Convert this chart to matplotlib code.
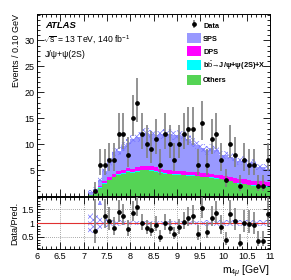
import numpy as np
import matplotlib
matplotlib.use("Agg")
import matplotlib.pyplot as plt
from matplotlib.ticker import MultipleLocator, FixedLocator
from matplotlib.patches import Patch

plt.rcParams['font.family'] = ['Liberation Sans', 'DejaVu Sans']
plt.rcParams['mathtext.fontset'] = 'custom'
plt.rcParams['mathtext.rm'] = 'Liberation Sans'
plt.rcParams['mathtext.it'] = 'Liberation Sans:italic'
plt.rcParams['mathtext.bf'] = 'Liberation Sans:bold'
plt.rcParams['hatch.linewidth'] = 0.5

# ---------------- data (bins of 0.1 GeV, 7.1 - 11.0 GeV) ----------------
bin_edges = [round(7.1 + 0.1 * i, 2) for i in range(40)]
data = [0, 1, 6, 6, 7, 7, 12, 12, 8, 15, 18, 12, 10, 9, 11, 6, 12, 10, 7, 10,
        12, 13, 13, 6, 14, 6, 11, 12, 7, 3, 10, 8, 2, 7, 6, 6, 2, 2, 7]
others = [0.2, 0.6, 1.6, 2.4, 3.0, 3.6, 4.1, 4.3, 4.7, 4.5, 4.7, 5.0, 5.0, 4.9,
          4.7, 4.5, 4.3, 4.2, 4.1, 4.1, 4.0, 3.9, 3.9, 3.8, 3.6, 3.6, 3.5, 3.3,
          3.2, 3.0, 2.8, 2.5, 2.4, 2.3, 2.1, 2.0, 1.9, 1.9, 1.8]
bb = [0.0, 0.0, 0.05, 0.05, 0.1, 0.1, 0.1, 0.1, 0.1, 0.1, 0.1, 0.1, 0.1, 0.1,
      0.1, 0.1, 0.1, 0.1, 0.1, 0.1, 0.1, 0.1, 0.1, 0.1, 0.1, 0.1, 0.1, 0.1,
      0.1, 0.1, 0.1, 0.1, 0.1, 0.1, 0.1, 0.1, 0.1, 0.1, 0.1]
dps = [0.05, 0.15, 0.3, 0.4, 0.5, 0.55, 0.6, 0.6, 0.65, 0.65, 0.7, 0.7, 0.7,
       0.7, 0.7, 0.7, 0.7, 0.7, 0.7, 0.7, 0.7, 0.7, 0.7, 0.7, 0.7, 0.7, 0.7,
       0.7, 0.75, 0.75, 0.75, 0.8, 0.8, 0.8, 0.8, 0.8, 0.8, 0.8, 0.8]
sps = [0.55, 0.65, 1.05, 1.95, 2.9, 4.15, 3.9, 4.6, 4.85, 5.65, 5.9, 6.2, 6.4,
       6.2, 6.2, 6.6, 7.0, 7.0, 6.8, 6.9, 6.8, 6.3, 5.6, 5.2, 4.8, 4.4, 4.9,
       4.8, 3.95, 4.05, 3.85, 4.0, 3.4, 3.8, 3.2, 3.6, 2.8, 2.7, 2.6]
unc = [0.3, 0.4, 0.6, 0.7, 0.75, 0.8, 0.8, 0.85, 0.85, 0.9, 0.9, 0.9, 0.9, 0.9,
       0.9, 0.9, 0.9, 0.9, 0.9, 0.9, 0.9, 0.85, 0.85, 0.8, 0.8, 0.8, 0.8, 0.8,
       0.75, 0.75, 0.75, 0.75, 0.7, 0.7, 0.7, 0.7, 0.65, 0.65, 0.65]

xticks = [6, 6.5, 7, 7.5, 8, 8.5, 9, 9.5, 10, 10.5, 11]
xticklabels = ['6', '6.5', '7', '7.5', '8', '8.5', '9', '9.5', '10', '10.5', '11']

c_sps = '#9999ff'
c_dps = '#ff00ff'
c_bb = '#00ffff'
c_oth = '#55d455'
c_hatch = '#7777ff'

edges = np.array(bin_edges)
centres = 0.5 * (edges[1:] + edges[:-1])
d = np.array(data, float)
l1 = np.array(others)
l2 = l1 + np.array(bb)
l3 = l2 + np.array(dps)
tot = l3 + np.array(sps)
u = np.array(unc)

fig = plt.figure(figsize=(2.91, 2.80), dpi=100)
ax1 = fig.add_axes([0.127, 0.30, 0.801, 0.65])
ax2 = fig.add_axes([0.127, 0.111, 0.801, 0.185], sharex=ax1)

ax1.stairs(l1, edges, baseline=0, fill=True, color=c_oth, lw=0)
ax1.stairs(l2, edges, baseline=l1, fill=True, color=c_bb, lw=0)
ax1.stairs(l3, edges, baseline=l2, fill=True, color=c_dps, lw=0)
ax1.stairs(tot, edges, baseline=l3, fill=True, color=c_sps, lw=0)
ax1.stairs(tot + u, edges, baseline=tot - u, fill=True, facecolor='none',
           edgecolor=c_hatch, hatch='xxxxx', lw=0)

mask = d > 0
err_hi = 0.5 + np.sqrt(d + 0.25)
err_lo = -0.5 + np.sqrt(d + 0.25)
eb = ax1.errorbar(centres[mask], d[mask], yerr=[err_lo[mask], err_hi[mask]],
                  fmt='o', ms=2.4, color='black', ecolor='0.5', elinewidth=1.2,
                  capsize=0, zorder=5)

ax1.set_xlim(6, 11)
ax1.set_ylim(0, 35.1)
ax1.yaxis.set_major_locator(FixedLocator([5, 10, 15, 20, 25, 30]))
ax1.yaxis.set_minor_locator(MultipleLocator(1))
ax1.xaxis.set_major_locator(FixedLocator(xticks))
ax1.xaxis.set_minor_locator(MultipleLocator(0.1))
ax1.tick_params(labelbottom=False)
ax1.set_ylabel('Events / 0.10 GeV', loc='top', fontsize=6.5, labelpad=2)

ax1.text(0.036, 0.935, 'ATLAS', transform=ax1.transAxes, fontsize=6.8,
         fontweight='bold', fontstyle='italic', va='center', ha='left')
ax1.text(0.024, 0.855, r'$\sqrt{\mathrm{s}}$ = 13 TeV, 140 fb$^{-1}$',
         transform=ax1.transAxes, fontsize=6.2, va='center', ha='left')
ax1.text(0.036, 0.775, 'J/ψ+ψ(2S)', transform=ax1.transAxes, fontsize=6.2,
         va='center', ha='left')

handles = [eb,
           Patch(facecolor=c_sps, edgecolor='none'),
           Patch(facecolor=c_dps, edgecolor='none'),
           Patch(facecolor=c_bb, edgecolor='none'),
           Patch(facecolor=c_oth, edgecolor='none')]
labels = ['Data', 'SPS', 'DPS', r'b$\bar{\mathrm{b}}$→J/ψ+ψ(2S)+X', 'Others']
leg = ax1.legend(handles, labels, loc='upper left', bbox_to_anchor=(0.645, 0.965),
                 frameon=False, handlelength=1.8, handleheight=1.7,
                 labelspacing=0.42, handletextpad=0.35, borderpad=0,
                 borderaxespad=0, prop={'weight': 'bold', 'size': 5.3})

# ratio panel
ratio = d / tot
r_hi = err_hi / tot
r_lo = err_lo / tot
ax2.stairs(1 + u / tot, edges, baseline=1 - u / tot, fill=True, facecolor='none',
           edgecolor=c_hatch, hatch='xxxxx', lw=0)
ax2.axhline(1, color='#e03030', lw=0.8, zorder=3)
ylo, yhi = 0.07, 1.93
inr = mask & (ratio <= yhi)
ax2.errorbar(centres[inr], ratio[inr], yerr=[r_lo[inr], r_hi[inr]], fmt='o',
             ms=2.4, color='black', ecolor='0.5', elinewidth=1.2, capsize=0,
             zorder=5)
for x, r in zip(centres[mask], ratio[mask]):
    if r > yhi:
        ax2.annotate('', xy=(x, yhi - 0.02), xytext=(x, yhi - 0.3),
                     arrowprops=dict(arrowstyle='-|>', color='#8888ff', lw=0.8,
                                     mutation_scale=5))
ax2.set_ylim(ylo, yhi)
ax2.yaxis.set_major_locator(FixedLocator([0.5, 1, 1.5]))
ax2.yaxis.set_minor_locator(MultipleLocator(0.1))
ax2.set_yticklabels(['0.5', '1', '1.5'])
ax2.set_xticks(xticks)
ax2.set_xticklabels(xticklabels)
ax2.xaxis.set_minor_locator(MultipleLocator(0.1))
ax2.grid(True, which='major', ls=(0, (1, 1.5)), color='0.55', lw=0.6)
ax2.set_ylabel('Data/Pred.', fontsize=6.5, labelpad=2)
ax2.set_xlabel(r'm$_{4\mu}$ [GeV]', loc='right', fontsize=7.5, labelpad=2)

for ax in (ax1, ax2):
    ax.tick_params(which='both', direction='in', top=True, right=True,
                   width=0.6, labelsize=6.5, pad=2)
    ax.tick_params(which='major', length=5)
    ax.tick_params(which='minor', length=2.5)
    for s in ax.spines.values():
        s.set_linewidth(0.7)

fig.savefig('out.png', dpi=100)
